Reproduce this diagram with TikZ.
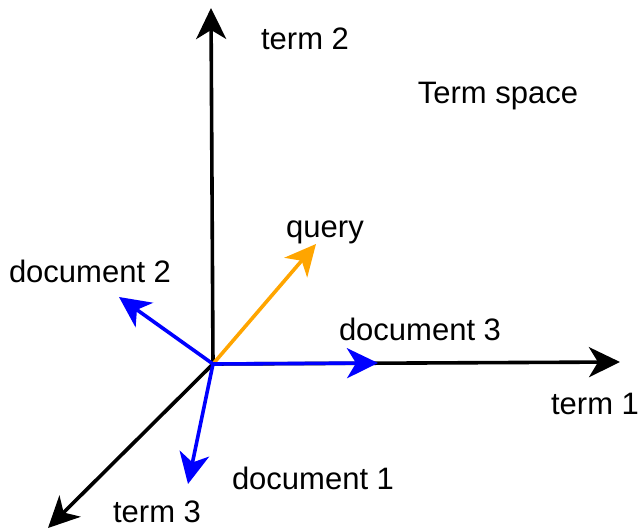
\documentclass[tikz,border=0pt]{standalone}
\usepackage{fontspec}
\setmainfont{Liberation Sans}
\usetikzlibrary{arrows.meta}
\begin{document}
\begin{tikzpicture}[x=1pt,y=-1pt,
  vec/.style={line width=3.6pt,-{Stealth[length=31pt,width=30pt,inset=9pt]}},
  lbl/.style={font=\fontsize{31}{35}\selectfont,inner sep=0pt}]
\useasboundingbox (0,0) rectangle (641,530);
\coordinate (o) at (213,364);
\coordinate (t1) at (620,362);
\coordinate (t2) at (211,8);
\coordinate (t3) at (48,528);
\coordinate (q) at (316,244);
\coordinate (d1) at (188,484);
\coordinate (d2) at (119,297);
\coordinate (d3) at (378,363);
\draw[vec] (o) -- (t1);
\draw[vec] (o) -- (t2);
\draw[vec] (o) -- (t3);
\draw[vec,color={rgb,255:red,255;green,165;blue,0}] (o) -- (q);
\draw[vec,blue] (o) -- (d1);
\draw[vec,blue] (o) -- (d2);
\draw[vec,blue] (o) -- (d3);
\node[lbl] (l2) at (305,39) {term 2};
\node[lbl] (ls) at (498,96) {Term space};
\node[lbl] (lq) at (325,232) {query};
\node[lbl] (ld2) at (90,271) {document 2};
\node[lbl] (ld3) at (420,329) {document 3};
\node[lbl] (l1) at (595,404) {term 1};
\node[lbl] (ld1) at (313,478) {document 1};
\node[lbl] (l3) at (157,512) {term 3};
\end{tikzpicture}
\end{document}
